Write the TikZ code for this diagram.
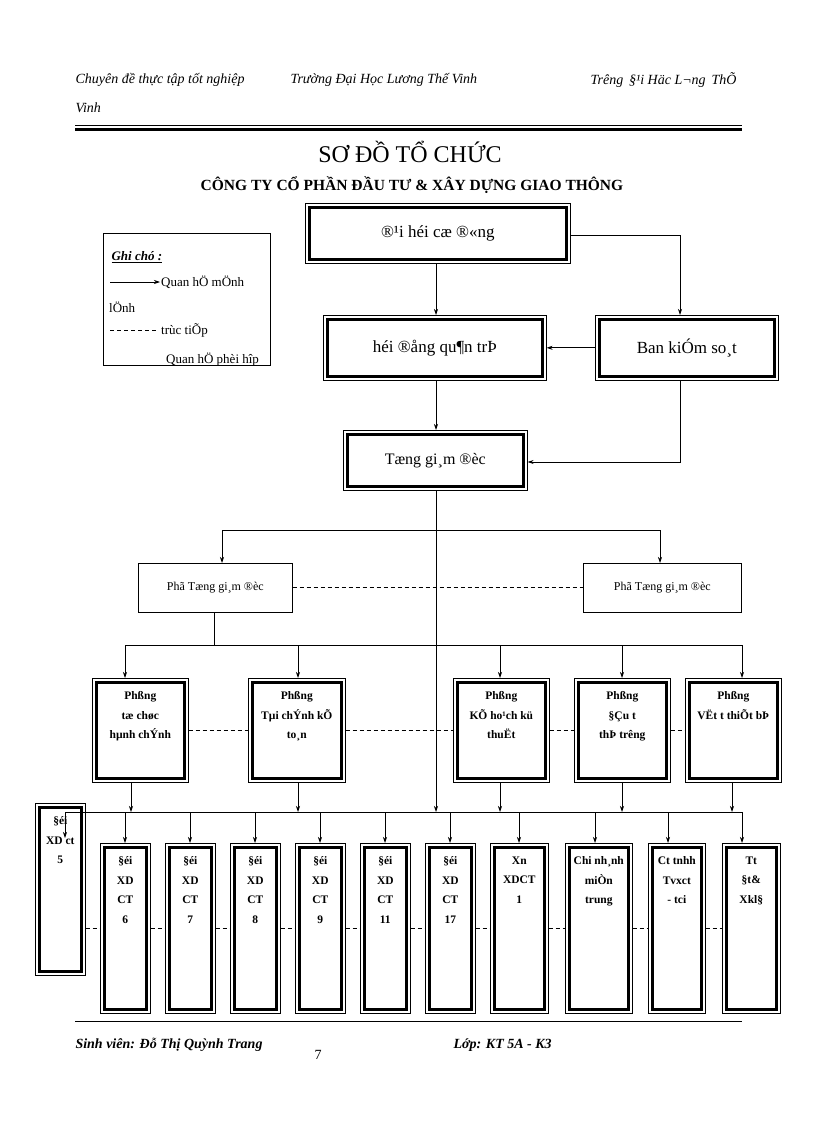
\documentclass[tikz,border=0pt]{standalone}
\usepackage{fontspec}
\setmainfont{Liberation Serif}
\usetikzlibrary{arrows.meta}
\begin{document}
\begin{tikzpicture}[x=1pt,y=-1pt,
  ar/.style={-{Stealth[length=6pt,width=4pt]},line width=0.7pt},
  ln/.style={line width=0.7pt},
  dsh/.style={dashed,line width=0.7pt,dash pattern=on 4pt off 3pt},
  bx/.style={draw,line width=0.6pt,inner sep=0pt,align=center,anchor=north west,
    path picture={\draw[line width=3pt]([xshift=4pt,yshift=-4pt]path picture bounding box.north west) rectangle ([xshift=-4pt,yshift=4pt]path picture bounding box.south east);}},
  big/.style={font=\fontsize{17}{20}\selectfont},
  tx/.style={label={[font=\bfseries\fontsize{11.5}{19.5}\selectfont,align=center,anchor=north,yshift=-10pt]north:{#1}}}]
\useasboundingbox (0,0) rectangle (816,1123);
% header
\begin{scope}[font=\itshape\fontsize{14}{16}\selectfont]
\node[anchor=west] (h1) at (72,80) {Chuyên đề thực tập tốt nghiệp};
\node[anchor=west] (h2) at (287,80) {Trường Đại Học Lương Thế Vinh};
\node[anchor=east] (h3) at (740,80) {Trêng \,§¹i Häc L¬ng \,ThÕ};
\node[anchor=west] (h4) at (72,108) {Vinh};
\end{scope}
\draw[line width=0.8pt] (75,125) -- (742,125);
\draw[line width=3pt] (75,129.5) -- (742,129.5);
\node[font=\fontsize{24}{26}\selectfont] (t1) at (410,152) {SƠ ĐỒ TỔ CHỨC};
\node[font=\bfseries\fontsize{15.5}{17}\selectfont] (t2) at (412,185) {CÔNG TY CỔ PHẦN ĐẦU TƯ \& XÂY DỰNG GIAO THÔNG};
% legend
\draw[line width=0.6pt] (103,233) rectangle (270,365);
\begin{scope}
\clip (103,233) rectangle (270,365);
\node[anchor=west,font=\bfseries\itshape\fontsize{13}{15}\selectfont] (lg) at (108,257) {\underline{Ghi chó :}};
\coordinate (la1) at (110,282); \coordinate (la2) at (160,282);
\draw[ar] (la1) -- (la2);
\node[anchor=west,font=\fontsize{13}{15}\selectfont,inner sep=1pt] (lt1) at (160,282) {Quan hÖ mÖnh};
\node[anchor=west,font=\fontsize{13}{15}\selectfont,inner sep=1pt] (lt2) at (108,307) {lÖnh};
\coordinate (ld1) at (110,330); \coordinate (ld2) at (158,330);
\draw[dsh] (ld1) -- (ld2);
\node[anchor=west,font=\fontsize{13}{15}\selectfont,inner sep=1pt] (lt3) at (160,330) {trùc tiÕp};
\node[anchor=west,font=\fontsize{13}{15}\selectfont,inner sep=1pt] (lt4) at (165,360) {Quan hÖ phèi hîp};
\end{scope}
% top boxes
\node[bx,big,minimum width=265,minimum height=60] (dh) at (305,203) {®¹i héi cæ ®«ng};
\node[bx,big,minimum width=223,minimum height=65] (hd) at (323,315) {héi ®ång qu¶n trÞ};
\node[bx,big,minimum width=183,minimum height=65] (bk) at (595,315) {Ban kiÓm so¸t};
\node[bx,big,font=\fontsize{16}{18}\selectfont,minimum width=184,minimum height=60] (tg) at (343,430) {Tæng gi¸m ®èc};
\draw[ar] (dh.south -| 436,0) -- (hd.north -| 436,0);
\draw[ar] (dh.east |- 0,235) -- (680,235) -- (bk.north -| 680,0);
\draw[ar] (bk.west) -- (hd.east);
\draw[ar] (hd.south -| 436,0) -- (tg.north -| 436,0);
\draw[ar] (bk.south -| 680,0) -- (680,462) -- (tg.east |- 0,462);
% pho tgd
\node[draw,line width=0.6pt,anchor=north west,minimum width=154,minimum height=49,font=\fontsize{12}{14}\selectfont] (p1) at (138,563) {Phã Tæng gi¸m ®èc};
\node[draw,line width=0.6pt,anchor=north west,minimum width=158,minimum height=49,font=\fontsize{12}{14}\selectfont] (p2) at (583,563) {Phã Tæng gi¸m ®èc};
\draw[dsh] (p1.east) -- (p2.west);
\coordinate (j1) at (436,530);
\draw[ln] (tg.south -| 436,0) -- (j1);
\draw[ln] (222,530) -- (660,530);
\draw[ar] (222,530) -- (p1.north -| 222,0);
\draw[ar] (660,530) -- (p2.north -| 660,0);
% phong
\node[bx,minimum width=96,minimum height=104,tx={Phßng\\tæ chøc\\hµnh chÝnh}] (r1) at (92,678) {};
\node[bx,minimum width=97,minimum height=104,tx={Phßng\\Tµi chÝnh kÕ\\to¸n}] (r2) at (248,678) {};
\node[bx,minimum width=96,minimum height=104,tx={Phßng\\KÕ ho¹ch kü\\thuËt}] (r3) at (453,678) {};
\node[bx,minimum width=96,minimum height=104,tx={Phßng\\§Çu t\\thÞ tr­êng}] (r4) at (574,678) {};
\node[bx,minimum width=96,minimum height=104,tx={Phßng\\VËt t­ thiÕt bÞ}] (r5) at (685,678) {};
\draw[dsh] (r1.east |- 0,730) -- (r2.west |- 0,730);
\draw[dsh] (r2.east |- 0,730) -- (r3.west |- 0,730);
\draw[dsh] (r3.east |- 0,730) -- (r4.west |- 0,730);
\draw[dsh] (r4.east |- 0,730) -- (r5.west |- 0,730);
\draw[ln] (p1.south -| 214,0) -- (214,645);
\draw[ln] (125,645) -- (742,645);
\draw[ar] (125,645) -- (r1.north -| 125,0);
\draw[ar] (298,645) -- (r2.north -| 298,0);
\draw[ar] (500,645) -- (r3.north -| 500,0);
\draw[ar] (622,645) -- (r4.north -| 622,0);
\draw[ar] (742,645) -- (r5.north -| 742,0);
% bus
\draw[ln] (65,812) -- (742,812);
\draw[ar] (j1) -- (436,812);
\draw[ar] (r1.south -| 131,0) -- (131,812);
\draw[ar] (r2.south -| 298,0) -- (298,812);
\draw[ar] (r3.south -| 500,0) -- (500,812);
\draw[ar] (r4.south -| 622,0) -- (622,812);
\draw[ar] (r5.south -| 732,0) -- (732,812);
% bottom boxes
\node[bx,minimum width=50,minimum height=172,tx={§éi\\XD ct\\5}] (b0) at (35,803) {};
\draw[ar] (65,812) -- (65,838);
\foreach \n/\x/\w/\ax/\t in {b6/100/50/125/{§éi\\XD\\CT\\6},b7/165/50/190/{§éi\\XD\\CT\\7},b8/230/50/255/{§éi\\XD\\CT\\8},b9/295/50/320/{§éi\\XD\\CT\\9},b11/360/50/385/{§éi\\XD\\CT\\11},b17/425/50/450/{§éi\\XD\\CT\\17},bx1/490/58/519/{Xn\\XDCT\\1},bcn/565/67/595/{Chi nh¸nh\\miÒn\\trung},bct/648/57/668/{Ct tnhh\\Tvxct\\- tci},btt/722/58/742/{Tt\\§t\&\\Xkl§}}{
  \node[bx,minimum width=\w,minimum height=170,tx={\t}] (\n) at (\x,843) {};
  \draw[ar] (\ax,812) -- (\n.north -| \ax,0);
}
\draw[dsh] (b0.east |- 0,928) -- (b6.west |- 0,928);
\draw[dsh] (b6.east |- 0,928) -- (b7.west |- 0,928);
\draw[dsh] (b7.east |- 0,928) -- (b8.west |- 0,928);
\draw[dsh] (b8.east |- 0,928) -- (b9.west |- 0,928);
\draw[dsh] (b9.east |- 0,928) -- (b11.west |- 0,928);
\draw[dsh] (b11.east |- 0,928) -- (b17.west |- 0,928);
\draw[dsh] (b17.east |- 0,928) -- (bx1.west |- 0,928);
\draw[dsh] (bx1.east |- 0,928) -- (bcn.west |- 0,928);
\draw[dsh] (bcn.east |- 0,928) -- (bct.west |- 0,928);
\draw[dsh] (bct.east |- 0,928) -- (btt.west |- 0,928);
% footer
\draw[line width=0.8pt] (75,1021) -- (742,1021);
\node[anchor=west,font=\bfseries\itshape\fontsize{14}{16}\selectfont] (f1) at (72,1045) {Sinh viên: Đỗ Thị Quỳnh Trang};
\node[font=\fontsize{14}{16}\selectfont] (f2) at (318,1055) {7};
\node[anchor=west,font=\bfseries\itshape\fontsize{14}{16}\selectfont] (f3) at (450,1045) {Lớp: KT 5A - K3};
\end{tikzpicture}
\end{document}
